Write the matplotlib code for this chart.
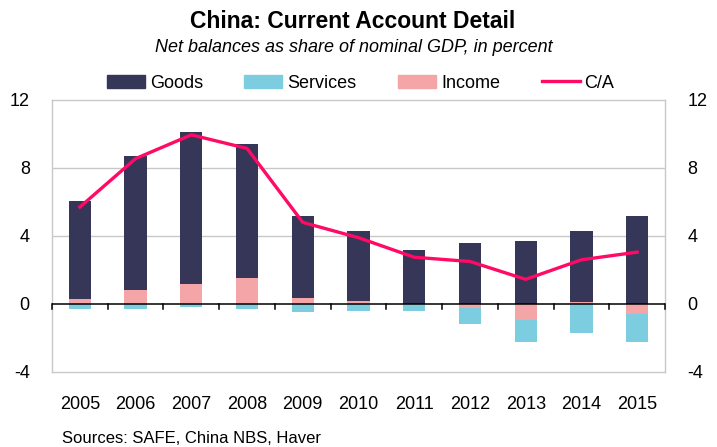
import numpy as np
import matplotlib
matplotlib.use("Agg")
import matplotlib.pyplot as plt
from matplotlib.patches import Patch
from matplotlib.lines import Line2D

plt.rcParams['font.family'] = ['Liberation Sans Narrow', 'Liberation Sans', 'DejaVu Sans']

years = ['2005', '2006', '2007', '2008', '2009', '2010', '2011', '2012', '2013', '2014', '2015']
goods = [5.75, 7.9, 8.9, 7.9, 4.85, 4.1, 3.15, 3.6, 3.7, 4.2, 5.2]
services = [-0.3, -0.3, -0.15, -0.3, -0.5, -0.4, -0.4, -0.95, -1.3, -1.7, -1.65]
income = [0.3, 0.8, 1.2, 1.5, 0.35, 0.2, 0.0, -0.25, -0.95, 0.1, -0.6]
current_account = [5.7, 8.55, 9.95, 9.15, 4.8, 3.9, 2.75, 2.5, 1.45, 2.6, 3.05]

c_goods = '#353658'
c_serv = '#7ccde0'
c_inc = '#f3a5a8'
c_ca = '#ff0a64'
c_grid = '#c8c8c8'

x = np.arange(len(years))
inc = np.array(income)
goods_bottom = np.maximum(inc, 0)
serv_bottom = np.minimum(inc, 0)

fig = plt.figure(figsize=(7.17, 4.47), dpi=100)
ax = fig.add_axes([0.0725, 0.1678, 0.855, 0.6085])

w = 0.4
ax.bar(x, income, w, color=c_inc, zorder=2)
ax.bar(x, goods, w, bottom=goods_bottom, color=c_goods, zorder=2)
ax.bar(x, services, w, bottom=serv_bottom, color=c_serv, zorder=2)
ax.plot(x, current_account, color=c_ca, lw=2.4, zorder=4, solid_joinstyle='round')

ax.set_xlim(-0.5, len(years) - 0.5)
ax.set_ylim(-4, 12)
ax.set_yticks([-4, 0, 4, 8, 12])
ax.set_yticklabels(['-4', '0', '4', '8', '12'])
for y in [4, 8]:
    ax.axhline(y, color=c_grid, lw=1, zorder=1)
ax.axhline(0, color='black', lw=1.1, zorder=3)
# category boundary ticks hanging below the zero line
for b in np.arange(-0.5, len(years), 1.0):
    ax.plot([b, b], [0, -0.32], color='black', lw=1.1, zorder=3, clip_on=False)

for s in ax.spines.values():
    s.set_color(c_grid)
    s.set_linewidth(1)

ax.set_xticks(x)
ax.set_xticklabels(years, fontsize=13)
ax.tick_params(axis='x', length=0, pad=17)
ax.tick_params(axis='y', length=0, labelsize=13, pad=16, labelleft=True, labelright=True)

fig.text(0.492, 0.952, 'China: Current Account Detail', ha='center', va='center',
         fontsize=16.5, fontweight='bold')
fig.text(0.493, 0.893, 'Net balances as share of nominal GDP, in percent', ha='center',
         va='center', fontsize=13, style='italic')

handles = [Patch(color=c_goods), Patch(color=c_serv), Patch(color=c_inc),
           Line2D([0], [0], color=c_ca, lw=2.4)]
fig.legend(handles, ['Goods', 'Services', 'Income', 'C/A'], ncol=4, frameon=False,
           loc='center', bbox_to_anchor=(0.503, 0.814), fontsize=13,
           handlelength=2.1, handleheight=0.7, handletextpad=0.28, columnspacing=2.3)

fig.text(0.0865, 0.02, 'Sources: SAFE, China NBS, Haver', fontsize=12, ha='left', va='center')

fig.savefig('out.png', dpi=100)
